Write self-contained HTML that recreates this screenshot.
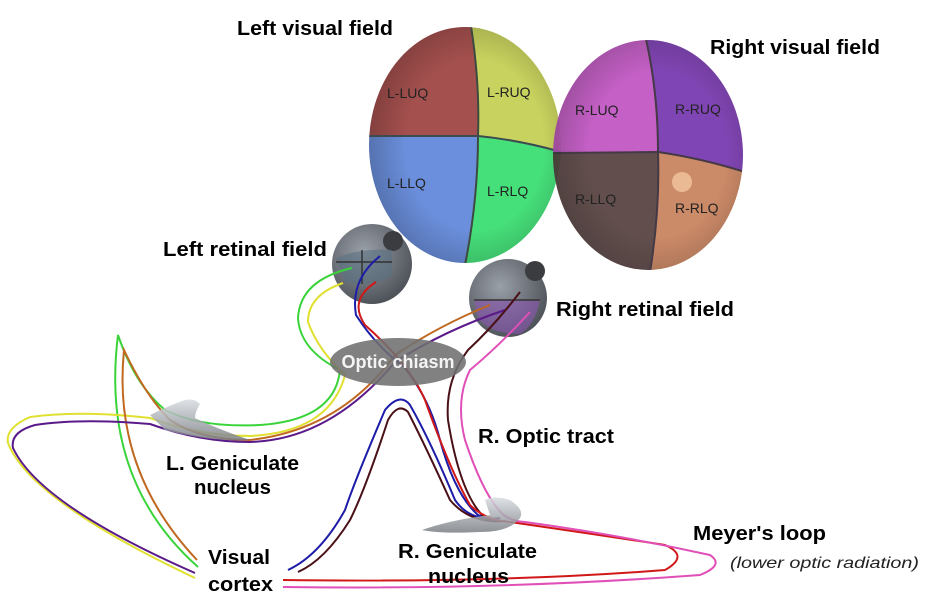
<!DOCTYPE html>
<html><head><meta charset="utf-8"><style>
html,body{margin:0;padding:0;background:#fff;}
svg{display:block;}
.lb{font-family:"Liberation Sans",sans-serif;font-weight:bold;font-size:20px;fill:#000;}
.q{font-family:"Liberation Sans",sans-serif;font-size:14px;fill:#222;}
</style></head><body>
<svg width="926" height="607" viewBox="0 0 926 607" xmlns="http://www.w3.org/2000/svg">
<defs>
<clipPath id="cl"><ellipse cx="465" cy="145" rx="96" ry="118"/></clipPath>
<clipPath id="cr"><ellipse cx="648" cy="155" rx="95" ry="115"/></clipPath>
<radialGradient id="sh" cx="0.55" cy="0.5" r="0.6"><stop offset="0.6" stop-color="#000" stop-opacity="0"/><stop offset="1" stop-color="#000" stop-opacity="0.25"/></radialGradient>
<radialGradient id="eye" cx="0.4" cy="0.35" r="0.7"><stop offset="0" stop-color="#9aa0a8"/><stop offset="1" stop-color="#4a4e55"/></radialGradient>
<linearGradient id="gn" x1="0" y1="0" x2="0" y2="1"><stop offset="0" stop-color="#d8dde2"/><stop offset="1" stop-color="#7a7e84"/></linearGradient>
</defs>

<g clip-path="url(#cl)">
<rect x="360" y="20" width="120" height="117" fill="#a4504e"/>
<path d="M470,20 Q480,80 478,136 Q520,140 565,153 L565,20 Z" fill="#c8d25e"/>
<path d="M360,136 L478,136 Q478,200 465,265 L360,265 Z" fill="#6b8fdc"/>
<path d="M478,136 Q520,140 565,153 L565,265 L465,265 Q478,200 478,136 Z" fill="#46e07a"/>
<ellipse cx="465" cy="145" rx="96" ry="118" fill="url(#sh)"/>
<path d="M470,20 Q480,80 478,136 Q478,200 465,265" stroke="#3d4a40" stroke-width="2" fill="none"/>
<path d="M360,136 L478,136 Q520,140 565,153" stroke="#3d4a50" stroke-width="2" fill="none"/>
</g>
<g clip-path="url(#cr)" opacity="0.95">
<rect x="550" y="35" width="110" height="118" fill="#c258c4"/>
<path d="M645,35 Q658,90 658,152 Q700,158 745,172 L745,35 Z" fill="#7a3bb0"/>
<path d="M550,153 L658,152 Q660,210 650,272 L550,272 Z" fill="#5a4644"/>
<path d="M658,152 Q700,158 745,172 L745,272 L650,272 Q660,210 658,152 Z" fill="#c98460"/>
<ellipse cx="648" cy="155" rx="95" ry="115" fill="url(#sh)"/>
<circle cx="682" cy="182" r="10" fill="#ffd8b0" opacity="0.6"/>
<path d="M645,35 Q658,90 658,152 Q660,210 650,272" stroke="#3a2f3a" stroke-width="2" fill="none"/>
<path d="M550,153 L658,152 Q700,158 745,172" stroke="#3a2f3a" stroke-width="2" fill="none"/>
</g>
<text class="q" x="387" y="98">L-LUQ</text>
<text class="q" x="487" y="97">L-RUQ</text>
<text class="q" x="387" y="188">L-LLQ</text>
<text class="q" x="487" y="196">L-RLQ</text>
<text class="q" x="575" y="115">R-LUQ</text>
<text class="q" x="675" y="114">R-RUQ</text>
<text class="q" x="575" y="204">R-LLQ</text>
<text class="q" x="675" y="213">R-RLQ</text>

<circle cx="372" cy="264" r="40" fill="url(#eye)"/>
<circle cx="393" cy="241" r="10" fill="#3a3c40"/>
<path d="M336,258 Q360,248 392,250 L392,276 Q370,288 345,282 Z" fill="#5a7080" opacity="0.6"/>
<path d="M362,250 L362,284 M336,262 L392,262" stroke="#333" stroke-width="1.5"/>
<circle cx="508" cy="298" r="39" fill="url(#eye)"/>
<circle cx="535" cy="271" r="10" fill="#3a3c40"/>
<path d="M474,300 L540,300 Q535,325 520,334 Q490,334 478,318 Z" fill="#8a55b0" opacity="0.6"/>
<path d="M474,300 L540,300" stroke="#333" stroke-width="1.5"/>

<g fill="none" stroke-width="2">
<path d="M352,268 Q300,280 298,318 Q300,350 340,370 Q335,420 260,425 Q200,428 165,410 Q135,385 118,335 Q100,480 198,567" stroke="#3ad43a"/>
<path d="M343,283 Q308,295 308,322 Q318,350 345,375 Q330,432 250,436 Q200,436 150,418 Q80,410 30,417 Q5,428 8,443 Q30,500 195,578" stroke="#e0e030"/>
<path d="M490,305 Q440,325 395,355 Q340,430 250,440 Q200,440 170,420 Q145,395 124,350 Q112,470 197,560" stroke="#c06820"/>
<path d="M505,310 Q445,330 395,362 Q330,440 250,442 Q200,442 150,424 Q80,418 35,425 Q10,432 13,448 Q40,505 195,573" stroke="#5a1a8a"/>
<path d="M380,256 Q350,280 356,315 Q375,345 405,368 Q430,400 440,440 Q455,495 478,515 Q490,520 500,518 Q470,522 455,500 Q430,440 410,405 Q400,392 385,410 Q355,480 345,510 Q320,555 288,570" stroke="#1c1ca8"/>
<path d="M520,292 Q495,325 468,350 Q445,380 448,420 Q460,495 485,518 Q495,522 505,521 Q470,524 450,500 Q425,445 408,412 Q398,402 388,420 Q365,490 350,520 Q325,560 298,572" stroke="#4a1018"/>
<path d="M376,282 Q348,300 365,325 Q410,365 425,400 Q450,470 470,505 Q485,520 510,522 Q600,535 665,545 Q690,556 665,570 Q500,583 283,580" stroke="#d01818"/>
<path d="M530,312 Q500,345 470,370 Q455,400 465,440 Q485,500 505,516 Q515,522 525,522 Q620,535 710,555 Q725,565 700,575 Q500,590 283,587" stroke="#e050b8"/>
</g>

<ellipse cx="398" cy="362" rx="68" ry="24" fill="#707070" opacity="0.88"/>
<text x="398" y="368" text-anchor="middle" font-family="Liberation Sans,sans-serif" font-weight="bold" font-size="18" fill="#f4f4f4">Optic chiasm</text>

<path d="M150,415 Q170,405 185,400 Q195,398 200,404 Q195,412 195,418 Q220,430 250,440 Q210,442 165,430 Z" fill="url(#gn)" opacity="0.85"/>
<path d="M422,530 Q450,520 490,515 L485,500 Q495,495 510,500 Q525,510 520,518 Q510,532 480,532 Q440,534 422,530 Z" fill="url(#gn)" opacity="0.85"/>

<text class="lb" x="237" y="35" textLength="156" lengthAdjust="spacingAndGlyphs">Left visual field</text>
<text class="lb" x="710" y="54" textLength="170" lengthAdjust="spacingAndGlyphs">Right visual field</text>
<text class="lb" x="163" y="256" textLength="164" lengthAdjust="spacingAndGlyphs">Left retinal field</text>
<text class="lb" x="556" y="316" textLength="178" lengthAdjust="spacingAndGlyphs">Right retinal field</text>
<text class="lb" x="166" y="470" textLength="133" lengthAdjust="spacingAndGlyphs">L. Geniculate</text>
<text class="lb" x="194" y="494" textLength="77" lengthAdjust="spacingAndGlyphs">nucleus</text>
<text class="lb" x="208" y="564" textLength="62" lengthAdjust="spacingAndGlyphs">Visual</text>
<text class="lb" x="208" y="591" textLength="65" lengthAdjust="spacingAndGlyphs">cortex</text>
<text class="lb" x="478" y="443" textLength="136" lengthAdjust="spacingAndGlyphs">R. Optic tract</text>
<text class="lb" x="398" y="558" textLength="139" lengthAdjust="spacingAndGlyphs">R. Geniculate</text>
<text class="lb" x="428" y="583" textLength="81" lengthAdjust="spacingAndGlyphs">nucleus</text>
<text class="lb" x="693" y="540" textLength="133" lengthAdjust="spacingAndGlyphs">Meyer's loop</text>
<text x="730" y="568" font-family="Liberation Sans,sans-serif" font-style="italic" font-size="16" fill="#222" textLength="189" lengthAdjust="spacingAndGlyphs">(lower optic radiation)</text>
</svg>
</body></html>
